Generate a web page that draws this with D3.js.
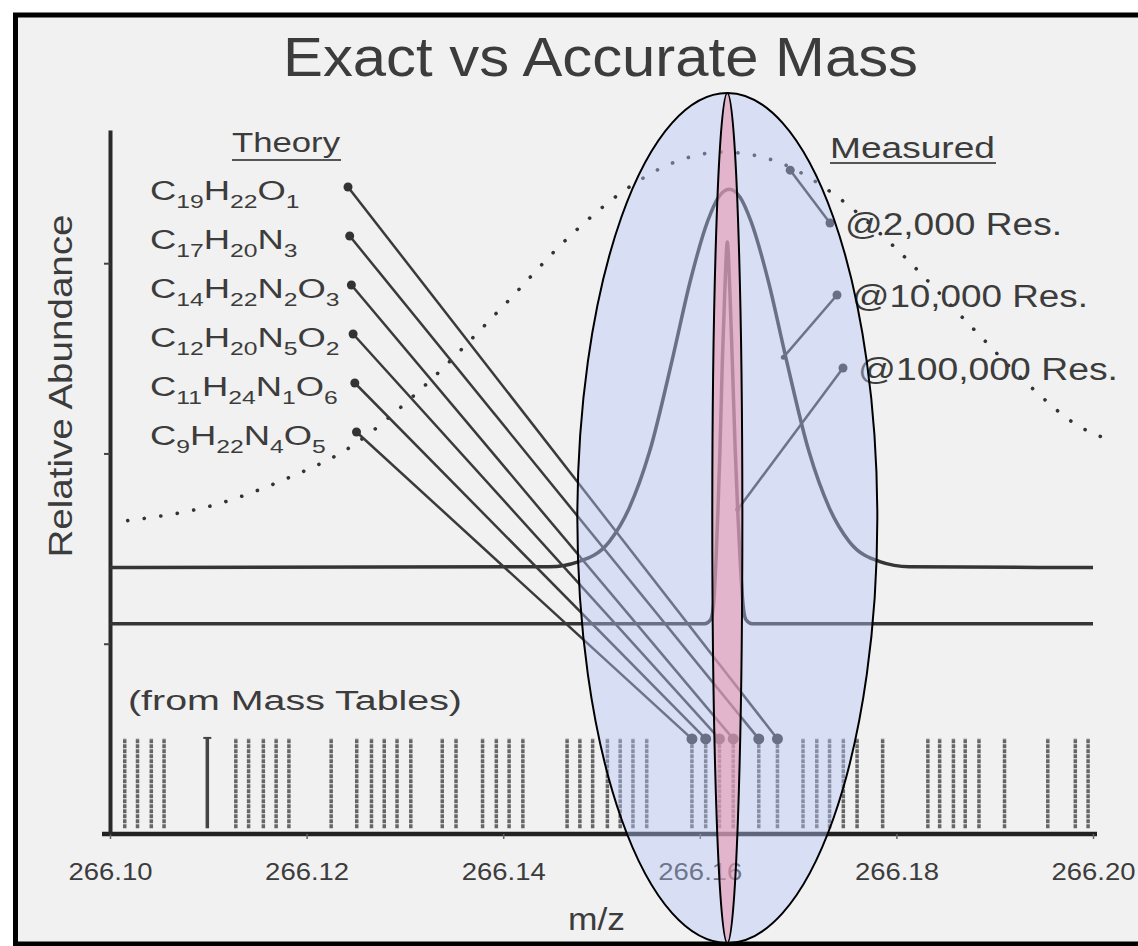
<!DOCTYPE html>
<head>
  <meta charset="utf-8">
  <script src="https://d3js.org/d3.v7.min.js"></script>
  <style>
    body { margin: 0; background: #fff; }
    text { font-family: 'Liberation Sans', Arial, sans-serif; fill: #3c3c3c; }
  </style>
</head>
<body>
  <div id="chart"></div>
<script>

  // axis ticks
  var mzTicks = [266.10, 266.12, 266.14, 266.16, 266.18, 266.20];
  var yTicks = [1, 2, 3];

  // candidate exact masses (from mass tables)
  var stickMz = [266.1015, 266.1028, 266.1042, 266.1055, 266.1099, 266.1128, 266.1141, 266.1156,
    266.1169, 266.1182, 266.1225, 266.1251, 266.1266, 266.1279, 266.1292, 266.1306, 266.1338,
    266.1352, 266.1379, 266.1393, 266.1406, 266.1420, 266.1465, 266.1478, 266.1491, 266.1506,
    266.1519, 266.1532, 266.1546, 266.1592, 266.1606, 266.1620, 266.1634, 266.1660, 266.1679,
    266.1705, 266.1719, 266.1732, 266.1746, 266.1760, 266.1786, 266.1832, 266.1844, 266.1858,
    266.1870, 266.1884, 266.1910, 266.1954, 266.1982, 266.1995];
  var strongSticks = [266.1099];
  var stickTop = 0.505;

  // theory formulas and where they sit on the mass scale
  var formulaLabels = ["C19H22O1", "C17H20N3", "C14H22N2O3", "C12H20N5O2", "C11H24N1O6", "C9H22N4O5"];
  var formulaMz = [266.1679, 266.1660, 266.1634, 266.1620, 266.1606, 266.1592];

  // measured profiles [m/z, relative abundance]
  var res2k = [[266.1018, 1.647], [266.1108, 1.732], [266.1175, 1.858], [266.1244, 2.032],
    [266.1315, 2.332], [266.1397, 2.758], [266.1470, 3.153], [266.1521, 3.374], [266.1572, 3.526],
    [266.1623, 3.584], [266.1674, 3.542], [266.1743, 3.337], [266.1795, 3.100], [266.1872, 2.689],
    [266.1935, 2.358], [266.1986, 2.142], [266.2015, 2.074]];

  var res10k = [[266.1000, 1.40], [266.1447, 1.405], [266.1477, 1.432], [266.1508, 1.537],
    [266.1528, 1.711], [266.1549, 2.011], [266.1573, 2.516], [266.1590, 2.900], [266.1608, 3.221],
    [266.1619, 3.347], [266.1630, 3.389], [266.1641, 3.347], [266.1652, 3.221], [266.1670, 2.900],
    [266.1687, 2.516], [266.1711, 2.011], [266.1732, 1.711], [266.1752, 1.537], [266.1783, 1.432],
    [266.1813, 1.405], [266.2000, 1.40]];

  var res100k = [[266.1000, 1.105], [266.1605, 1.105], [266.1611, 1.126], [266.1614, 1.205],
    [266.16165, 1.442], [266.16185, 1.705], [266.16205, 2.021], [266.1623, 2.495], [266.16255, 2.863],
    [266.1628, 3.111], [266.16305, 2.863], [266.1633, 2.495], [266.1636, 2.021], [266.16385, 1.705],
    [266.1641, 1.442], [266.1644, 1.205], [266.1647, 1.126], [266.1653, 1.105], [266.2000, 1.105]];

  var measuredLabels = ["@2,000 Res.", "@10,000 Res.", "@100,000 Res."];
  var measuredTargets = [[266.1692, 3.489], [266.1685, 2.505], [266.16385, 1.705]];

  var peakMz = 266.1628;


  var W = 1138, H = 946;

  var x = d3.scaleLinear().domain([266.10, 266.20]).range([110, 1093]);
  var y = d3.scaleLinear().domain([0, 3.7]).range([834, 130]);

  var svg = d3.select("#chart")
    .append("svg")
    .attr("width", W)
    .attr("height", H);

  svg.append("rect")
    .attr("width", W).attr("height", H)
    .attr("fill", "#fff");

  // slide frame
  svg.append("rect")
    .attr("x", 15.5).attr("y", 15)
    .attr("width", 1135).attr("height", 929)
    .attr("fill", "#f1f1f1")
    .attr("stroke", "#000")
    .attr("stroke-width", 5);

  // stretched text helper, the slide glyphs are wider than Arial
  function label(txt, xp, yp, size, len) {
    return svg.append("text")
      .text(txt)
      .attr("x", xp).attr("y", yp)
      .attr("font-size", size)
      .attr("textLength", len)
      .attr("lengthAdjust", "spacingAndGlyphs");
  }

  label("Exact vs Accurate Mass", 283, 76, 55, 635);

  // axes
  var xAxis = svg.append("g")
    .attr("transform", "translate(0," + y(0) + ")")
    .call(d3.axisBottom(x).tickValues(mzTicks).tickFormat(d3.format(".2f"))
      .tickSize(5).tickSizeOuter(0).tickPadding(24));
  xAxis.select(".domain").attr("stroke", "#222").attr("stroke-width", 4.5)
    .attr("d", "M" + (x(266.10) - 8) + ",0H" + (x(266.20) + 4));
  xAxis.selectAll(".tick line").attr("stroke", "#666").attr("stroke-width", 1.5);
  xAxis.selectAll(".tick text")
    .attr("font-size", 24)
    .attr("font-family", "'Liberation Sans', Arial, sans-serif")
    .attr("textLength", 84)
    .attr("lengthAdjust", "spacingAndGlyphs")
    .attr("fill", "#3c3c3c");

  var yAxis = svg.append("g")
    .attr("transform", "translate(" + x(266.10) + ",0)")
    .call(d3.axisLeft(y).tickValues(yTicks).tickFormat("").tickSize(6).tickSizeOuter(0));
  yAxis.select(".domain").attr("stroke", "#2a2a2a").attr("stroke-width", 4);
  yAxis.selectAll(".tick line").attr("stroke", "#444").attr("stroke-width", 2);

  svg.append("text")
    .text("Relative Abundance")
    .attr("transform", "translate(72,386) rotate(-90)")
    .attr("text-anchor", "middle")
    .attr("font-size", 34)
    .attr("textLength", 343)
    .attr("lengthAdjust", "spacingAndGlyphs");

  label("m/z", 568, 930, 31, 57);

  // mass table sticks
  svg.selectAll(".stick")
    .data(stickMz)
    .join("line")
    .attr("class", "stick")
    .attr("x1", function (d) { return x(d); })
    .attr("x2", function (d) { return x(d); })
    .attr("y1", y(0.03))
    .attr("y2", y(stickTop))
    .attr("stroke", function (d) { return strongSticks.indexOf(d) >= 0 ? "#444" : "#666"; })
    .attr("stroke-width", 3.5)
    .attr("stroke-dasharray", function (d) { return strongSticks.indexOf(d) >= 0 ? null : "4 1"; });

  svg.selectAll(".stickcap")
    .data(strongSticks)
    .join("line")
    .attr("x1", function (d) { return x(d) - 4; })
    .attr("x2", function (d) { return x(d) + 4; })
    .attr("y1", y(stickTop)).attr("y2", y(stickTop))
    .attr("stroke", "#444").attr("stroke-width", 2);

  label("(from Mass Tables)", 128, 710, 27, 334);

  // profiles
  var line = d3.line()
    .x(function (d) { return x(d[0]); })
    .y(function (d) { return y(d[1]); })
    .curve(d3.curveMonotoneX);

  svg.append("path")
    .attr("d", line(res2k))
    .attr("fill", "none")
    .attr("stroke", "#333")
    .attr("stroke-width", 3.6)
    .attr("stroke-linecap", "round")
    .attr("stroke-dasharray", "0.1 16.6");

  svg.append("path")
    .attr("d", line(res10k))
    .attr("fill", "none")
    .attr("stroke", "#353535")
    .attr("stroke-width", 3.5);

  svg.append("path")
    .attr("d", line(res100k))
    .attr("fill", "none")
    .attr("stroke", "#353535")
    .attr("stroke-width", 3.5);

  // theory labels
  label("Theory", 232, 152, 28, 108);
  svg.append("line")
    .attr("x1", 232).attr("x2", 341)
    .attr("y1", 160).attr("y2", 160)
    .attr("stroke", "#555").attr("stroke-width", 2);

  formulaLabels.forEach(function (f, i) {
    var by = 200 + i * 49;
    var t = svg.append("text")
      .attr("transform", "translate(150," + by + ") scale(1.3,1)")
      .attr("font-size", 28);
    var low = false;
    f.match(/[A-Z]|\d+/g).forEach(function (p) {
      var isNum = /\d/.test(p);
      var ts = t.append("tspan").text(p);
      if (isNum && !low) { ts.attr("dy", 8).attr("font-size", 19); low = true; }
      else if (isNum) { ts.attr("font-size", 19); }
      else if (low) { ts.attr("dy", -8); low = false; }
    });

    var sx = 348 + i * 1.7, sy = by - 13;
    var ex = x(formulaMz[i]), ey = y(stickTop) + 1;
    svg.append("line")
      .attr("x1", sx).attr("y1", sy)
      .attr("x2", ex).attr("y2", ey)
      .attr("stroke", "#3a3a3a").attr("stroke-width", 2.5);
    svg.append("circle").attr("cx", sx).attr("cy", sy).attr("r", 4.5).attr("fill", "#333");
    svg.append("circle").attr("cx", ex).attr("cy", ey).attr("r", 5.5).attr("fill", "#333");
  });

  // measured labels
  label("Measured", 830, 158, 29, 165);
  svg.append("line")
    .attr("x1", 830).attr("x2", 996)
    .attr("y1", 163).attr("y2", 163)
    .attr("stroke", "#555").attr("stroke-width", 2);

  var mLabelX = [845, 852, 858];
  var mLabelY = [235, 307, 380];
  var mLabelLen = [217, 236, 260];
  measuredLabels.forEach(function (lab, i) {
    label(lab, mLabelX[i], mLabelY[i], 31, mLabelLen[i]);
    var dx = mLabelX[i] - 15, dy = mLabelY[i] - 12;
    var tx = x(measuredTargets[i][0]), ty = y(measuredTargets[i][1]);
    svg.append("line")
      .attr("x1", dx).attr("y1", dy).attr("x2", tx).attr("y2", ty)
      .attr("stroke", "#3a3a3a").attr("stroke-width", 2.5);
    svg.append("circle").attr("cx", dx).attr("cy", dy).attr("r", 4.5).attr("fill", "#333");
    svg.append("circle").attr("cx", tx).attr("cy", ty).attr("r", i === 0 ? 4.5 : 2.5).attr("fill", "#333");
  });

  // highlight ellipses around the measured peak
  var cy = (y(0) + y(3.7)) / 2 + 36;
  svg.append("ellipse")
    .attr("cx", x(peakMz)).attr("cy", cy)
    .attr("rx", x(peakMz) - x(peakMz - 0.01526)).attr("ry", 425)
    .attr("fill", "rgba(180,198,250,0.42)")
    .attr("stroke", "#000").attr("stroke-width", 2);
  svg.append("ellipse")
    .attr("cx", x(peakMz)).attr("cy", cy)
    .attr("rx", x(peakMz) - x(peakMz - 0.00153)).attr("ry", 425)
    .attr("fill", "rgba(235,150,175,0.58)")
    .attr("stroke", "#000").attr("stroke-width", 2);

</script>
</body>
</html>
